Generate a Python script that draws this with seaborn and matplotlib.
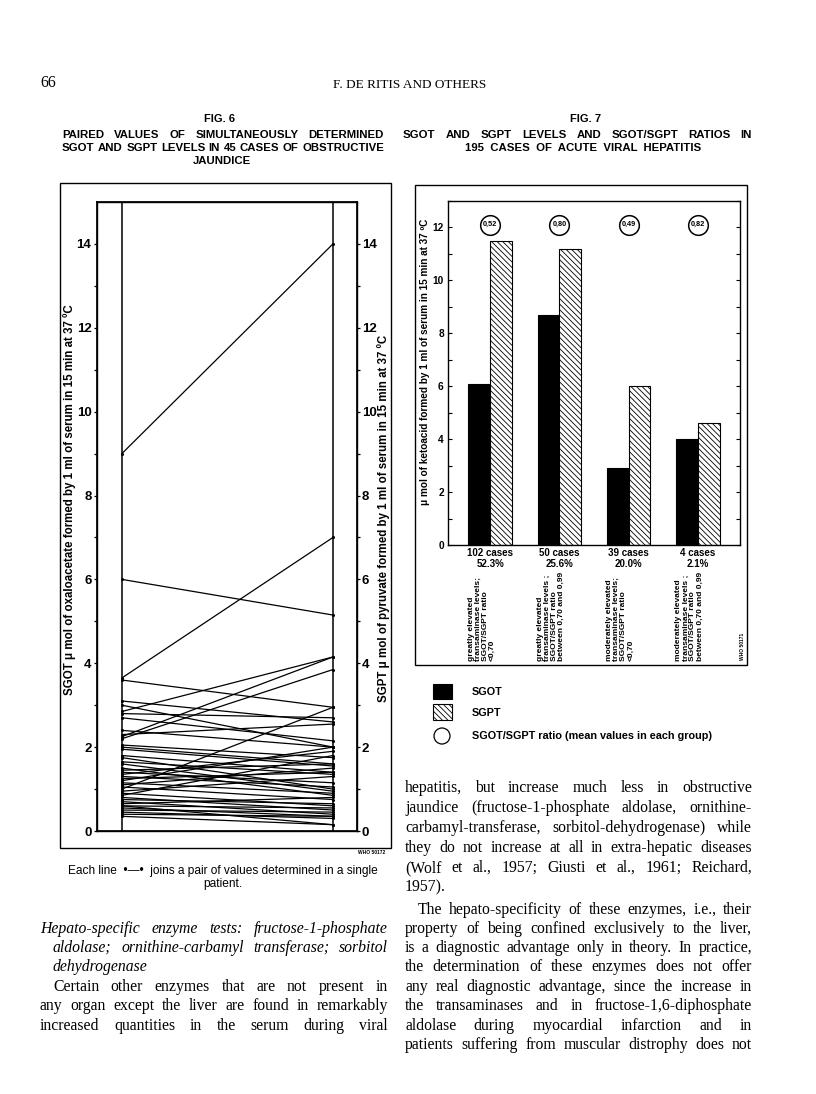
import numpy as np
import pandas as pd
import matplotlib
matplotlib.use('Agg')
import matplotlib.pyplot as plt
import matplotlib.transforms as mtransforms
from matplotlib.patches import Rectangle, Ellipse
import seaborn as sns

# --- data ---
# Fig. 6: paired SGOT / SGPT values, 45 cases of obstructive jaundice
sgot_obstr = [9.0, 6.0, 3.65, 3.6, 2.85, 2.25, 2.2, 3.1, 3.0, 2.8,
              2.7, 2.4, 2.0, 1.95, 1.0, 1.2, 0.85, 1.8, 1.65, 1.6,
              1.45, 1.4, 1.3, 1.25, 1.15, 1.1, 1.05, 0.9, 0.8, 0.75,
              0.7, 0.6, 0.6, 0.55, 0.5, 0.45, 0.4, 0.35, 1.35, 2.05,
              0.95, 1.5, 0.65, 1.75, 2.3]
sgpt_obstr = [14.0, 5.15, 7.0, 2.95, 4.15, 4.15, 3.85, 2.6, 2.0, 2.7,
              2.15, 2.0, 1.6, 1.55, 2.95, 2.0, 1.8, 1.4, 1.35, 0.95,
              1.6, 1.15, 1.05, 1.4, 0.9, 1.5, 0.75, 0.6, 0.5, 0.65,
              0.4, 0.15, 0.55, 0.35, 0.45, 0.3, 0.35, 0.15, 1.9, 1.75,
              1.3, 0.85, 0.8, 1.0, 2.55]
fig6_ticks = [0, 2, 4, 6, 8, 10, 12, 14]

# Fig. 7: acute viral hepatitis groups
groups = ['g1', 'g2', 'g3', 'g4']
case_labels = ['102 cases\n52.3%', '50 cases\n25.6%', '39 cases\n20.0%', '4 cases\n2.1%']
sgot_hep = [6.1, 8.7, 2.9, 4.0]
sgpt_hep = [11.5, 11.2, 6.0, 4.6]
ratios = ['0,52', '0,80', '0,49', '0,82']
descriptions = [
    'greatly elevated\ntransaminase levels;\nSGOT/SGPT ratio\n<0,70',
    'greatly elevated\ntransaminase levels ;\nSGOT/SGPT ratio\nbetween 0,70 and 0,99',
    'moderately elevated\ntransaminase levels;\nSGOT/SGPT ratio\n<0,70',
    'moderately elevated\ntransaminase levels ;\nSGOT/SGPT ratio\nbetween 0,70 and 0,99',
]
fig7_ticks = [0, 2, 4, 6, 8, 10, 12]

sns.set_theme(style='ticks', rc={'axes.edgecolor': 'black', 'xtick.color': 'black',
                                 'ytick.color': 'black', 'text.color': 'black'})
plt.rcParams['font.family'] = ['Liberation Sans', 'DejaVu Sans']
plt.rcParams['hatch.linewidth'] = 0.6

SANS = ['Liberation Sans', 'DejaVu Sans']
SERIF = ['Liberation Serif', 'DejaVu Serif']

W, H = 816, 1094
fig = plt.figure(figsize=(W / 100, H / 100), dpi=100)


def fx(x):
    return x / W


def fy(y):
    return 1 - y / H


def box(x0, y0, x1, y1):
    return [fx(x0), fy(y1), (x1 - x0) / W, (y1 - y0) / H]


def frame(x0, y0, x1, y1, lw=1.0):
    fig.add_artist(Rectangle((fx(x0), fy(y1)), (x1 - x0) / W, (y1 - y0) / H,
                             transform=fig.transFigure, fill=False, ec='black', lw=lw))


renderer = fig.canvas.get_renderer()


def justify(x0, x1, y, line, stretch=True, **kw):
    # spread the words of one line between x0 and x1 (like the printed column)
    if not stretch:
        fig.text(fx(x0), fy(y), line, va='center', ha='left', **kw)
        return
    words = line.split()
    arts = [fig.text(fx(x0), fy(y), w, va='center', ha='left', **kw) for w in words]
    widths = [a.get_window_extent(renderer).width for a in arts]
    gap = (x1 - x0 - sum(widths)) / max(len(words) - 1, 1)
    x = x0
    for a, w in zip(arts, widths):
        a.set_x(fx(x))
        x += w + gap


# --- page header and titles ---
fig.text(fx(40), fy(83), '66', fontsize=11.5, family=SERIF, va='center', ha='left')
fig.text(fx(410), fy(85), 'F. DE RITIS AND OTHERS', fontsize=9.5, family=SERIF, va='center', ha='center')

fig.text(fx(219), fy(119), 'FIG. 6', fontsize=8, weight='bold', ha='center', va='center')
fig.text(fx(586), fy(119), 'FIG. 7', fontsize=8, weight='bold', ha='center', va='center')
title_kw = dict(fontsize=8.2, weight='bold', family=SANS)
justify(62, 384, 135, 'PAIRED VALUES OF SIMULTANEOUSLY DETERMINED', **title_kw)
justify(62, 384, 148, 'SGOT AND SGPT LEVELS IN 45 CASES OF OBSTRUCTIVE', **title_kw)
fig.text(fx(222), fy(161), 'JAUNDICE', ha='center', va='center', **title_kw)
justify(403, 752, 135, 'SGOT AND SGPT LEVELS AND SGOT/SGPT RATIOS IN', **title_kw)
fig.text(fx(583), fy(148), '195  CASES  OF  ACUTE  VIRAL  HEPATITIS', ha='center', va='center', **title_kw)

# --- Fig. 6 ---
frame(60, 183, 391, 848)
df6 = pd.DataFrame({
    'patient': np.repeat(np.arange(len(sgot_obstr)), 2),
    'side': np.tile([0, 1], len(sgot_obstr)),
    'value': np.column_stack([sgot_obstr, sgpt_obstr]).ravel(),
})
ax6 = fig.add_axes(box(97, 202, 357, 831))
sns.lineplot(data=df6, x='side', y='value', units='patient', estimator=None,
             color='black', linewidth=0.9, marker='o', markersize=2.2, mew=0,
             ax=ax6, legend=False)
ax6.axvline(0, color='black', lw=1.1)
ax6.axvline(1, color='black', lw=1.1)
ax6.set_xlim(-0.118, 1.114)
ax6.set_ylim(0, 15)
ax6.set_xticks([])
ax6.set_xlabel('')
ax6.set_ylabel('')
tick6 = dict(fontsize=9.5, fontweight='bold', family=SANS)
ax6.set_yticks(fig6_ticks, labels=[str(t) for t in fig6_ticks], **tick6)
ax6.set_yticks(range(0, 15), minor=True)
ax6.tick_params(axis='y', which='both', direction='out', length=2.5, width=0.9, pad=1.5)
for s in ax6.spines.values():
    s.set_linewidth(1.0)

ax6r = ax6.twinx()
ax6r.set_ylim(0, 15)
ax6r.set_yticks(fig6_ticks, labels=[str(t) for t in fig6_ticks], **tick6)
ax6r.set_yticks(range(0, 15), minor=True)
ax6r.tick_params(axis='y', which='both', direction='out', length=2.5, width=0.9, pad=1.0)
ax6r.set_ylabel('')

ylab6 = dict(rotation=90, ha='center', va='center', fontsize=8.3, weight='bold', family=SANS)
fig.text(fx(70), fy(500), 'SGOT \u03bc mol of oxaloacetate formed by 1 ml of serum in 15 min at 37 \u00baC', **ylab6)
fig.text(fx(384), fy(518), 'SGPT \u03bc mol of pyruvate formed by 1 ml of serum in 15 min at 37 \u00baC', **ylab6)
fig.text(fx(372), fy(852), 'WHO 50172', fontsize=3.5, weight='bold', ha='center', va='center')

cap_kw = dict(fontsize=8.6, family=SANS)
fig.text(fx(223), fy(871), 'Each line  \u2022\u2014\u2022  joins a pair of values determined in a single',
         ha='center', va='center', **cap_kw)
fig.text(fx(223), fy(884), 'patient.', ha='center', va='center', **cap_kw)

# --- Fig. 7 ---
frame(415, 185, 747, 665)
df7 = pd.DataFrame({
    'group': groups * 2,
    'enzyme': ['SGOT'] * 4 + ['SGPT'] * 4,
    'value': sgot_hep + sgpt_hep,
})
ax7 = fig.add_axes(box(448, 201, 740, 545))
sns.barplot(data=df7, x='group', y='value', hue='enzyme',
            palette={'SGOT': 'black', 'SGPT': 'white'}, width=0.63,
            edgecolor='black', linewidth=0.8, ax=ax7, legend=False)
for bar in ax7.containers[1]:
    bar.set_hatch('\\' * 6)
ax7.scatter(range(len(ratios)), [12.1] * len(ratios), s=200, fc='white', ec='black', lw=1.1, zorder=3)
for i, r in enumerate(ratios):
    ax7.text(i, 12.1, r, ha='center', va='center', fontsize=5.3, weight='bold', family=SANS, zorder=4)
ax7.set_xlim(-0.61, 3.61)
ax7.set_ylim(0, 13)
ax7.set_xlabel('')
ax7.set_ylabel('')
ax7.set_xticks(range(4), labels=case_labels, fontsize=7, fontweight='bold', family=SANS, linespacing=1.1)
ax7.tick_params(axis='x', length=0, pad=2)
ax7.set_yticks(fig7_ticks, labels=[str(t) for t in fig7_ticks], fontsize=7.3, fontweight='bold', family=SANS)
ax7.set_yticks(range(0, 14), minor=True)
ax7.tick_params(axis='y', which='both', left=True, right=True, direction='in', length=3, width=0.8, pad=3)
for s in ax7.spines.values():
    s.set_linewidth(1.0)

blend = mtransforms.blended_transform_factory(ax7.transData, fig.transFigure)
for i, d in enumerate(descriptions):
    ax7.text(i - 0.12, fy(661), d, transform=blend, rotation=90, ha='center', va='bottom',
             multialignment='left', fontsize=6.0, weight='bold', family=SANS, linespacing=1.0)

fig.text(fx(425), fy(362), '\u03bc mol of ketoacid formed by 1 ml of serum in 15 min at 37 \u00baC',
         rotation=90, ha='center', va='center', fontsize=7.2, weight='bold', family=SANS)
fig.text(fx(742), fy(646), 'WHO 50171', rotation=90, fontsize=3.5, weight='bold', ha='center', va='center')

# legend drawn under the figure frame
fig.add_artist(Rectangle((fx(433), fy(699)), 19 / W, 15 / H, transform=fig.transFigure,
                         fc='black', ec='black', lw=0.8))
fig.add_artist(Rectangle((fx(433), fy(720)), 19 / W, 16 / H, transform=fig.transFigure,
                         fc='white', ec='black', lw=0.8, hatch='\\' * 6))
fig.add_artist(Ellipse((fx(442), fy(736)), 16 / W, 16 / H, transform=fig.transFigure,
                       fc='white', ec='black', lw=0.9))
leg_kw = dict(fontsize=7.8, weight='bold', family=SANS, va='center', ha='left')
fig.text(fx(472), fy(692), 'SGOT', **leg_kw)
fig.text(fx(472), fy(713), 'SGPT', **leg_kw)
fig.text(fx(472), fy(736), 'SGOT/SGPT ratio (mean values in each group)', **leg_kw)

# --- body text ---
body = dict(fontsize=11.3, family=SERIF)
ital = dict(fontsize=11.3, family=SERIF, style='italic')
justify(40, 388, 929, 'Hepato-specific enzyme tests: fructose-1-phosphate', **ital)
justify(53, 388, 948, 'aldolase; ornithine-carbamyl transferase; sorbitol', **ital)
justify(53, 388, 967, 'dehydrogenase', stretch=False, **ital)
justify(53, 388, 987, 'Certain other enzymes that are not present in', **body)
justify(40, 388, 1006, 'any organ except the liver are found in remarkably', **body)
justify(40, 388, 1026, 'increased quantities in the serum during viral', **body)

right_lines = [
    (405, 788, 'hepatitis, but increase much less in obstructive', True),
    (405, 808, 'jaundice (fructose-1-phosphate aldolase, ornithine-', True),
    (405, 828, 'carbamyl-transferase, sorbitol-dehydrogenase) while', True),
    (405, 848, 'they do not increase at all in extra-hepatic diseases', True),
    (405, 868, '(Wolf et al., 1957; Giusti et al., 1961; Reichard,', True),
    (405, 887, '1957).', False),
    (418, 910, 'The hepato-specificity of these enzymes, i.e., their', True),
    (405, 929, 'property of being confined exclusively to the liver,', True),
    (405, 948, 'is a diagnostic advantage only in theory.  In practice,', True),
    (405, 967, 'the determination of these enzymes does not offer', True),
    (405, 987, 'any real diagnostic advantage, since the increase in', True),
    (405, 1006, 'the transaminases and in fructose-1,6-diphosphate', True),
    (405, 1026, 'aldolase during myocardial infarction and in', True),
    (405, 1045, 'patients suffering from muscular distrophy does not', True),
]
for x0, y, line, st in right_lines:
    justify(x0, 752, y, line, stretch=st, **body)

fig.savefig('out.png', dpi=100)
